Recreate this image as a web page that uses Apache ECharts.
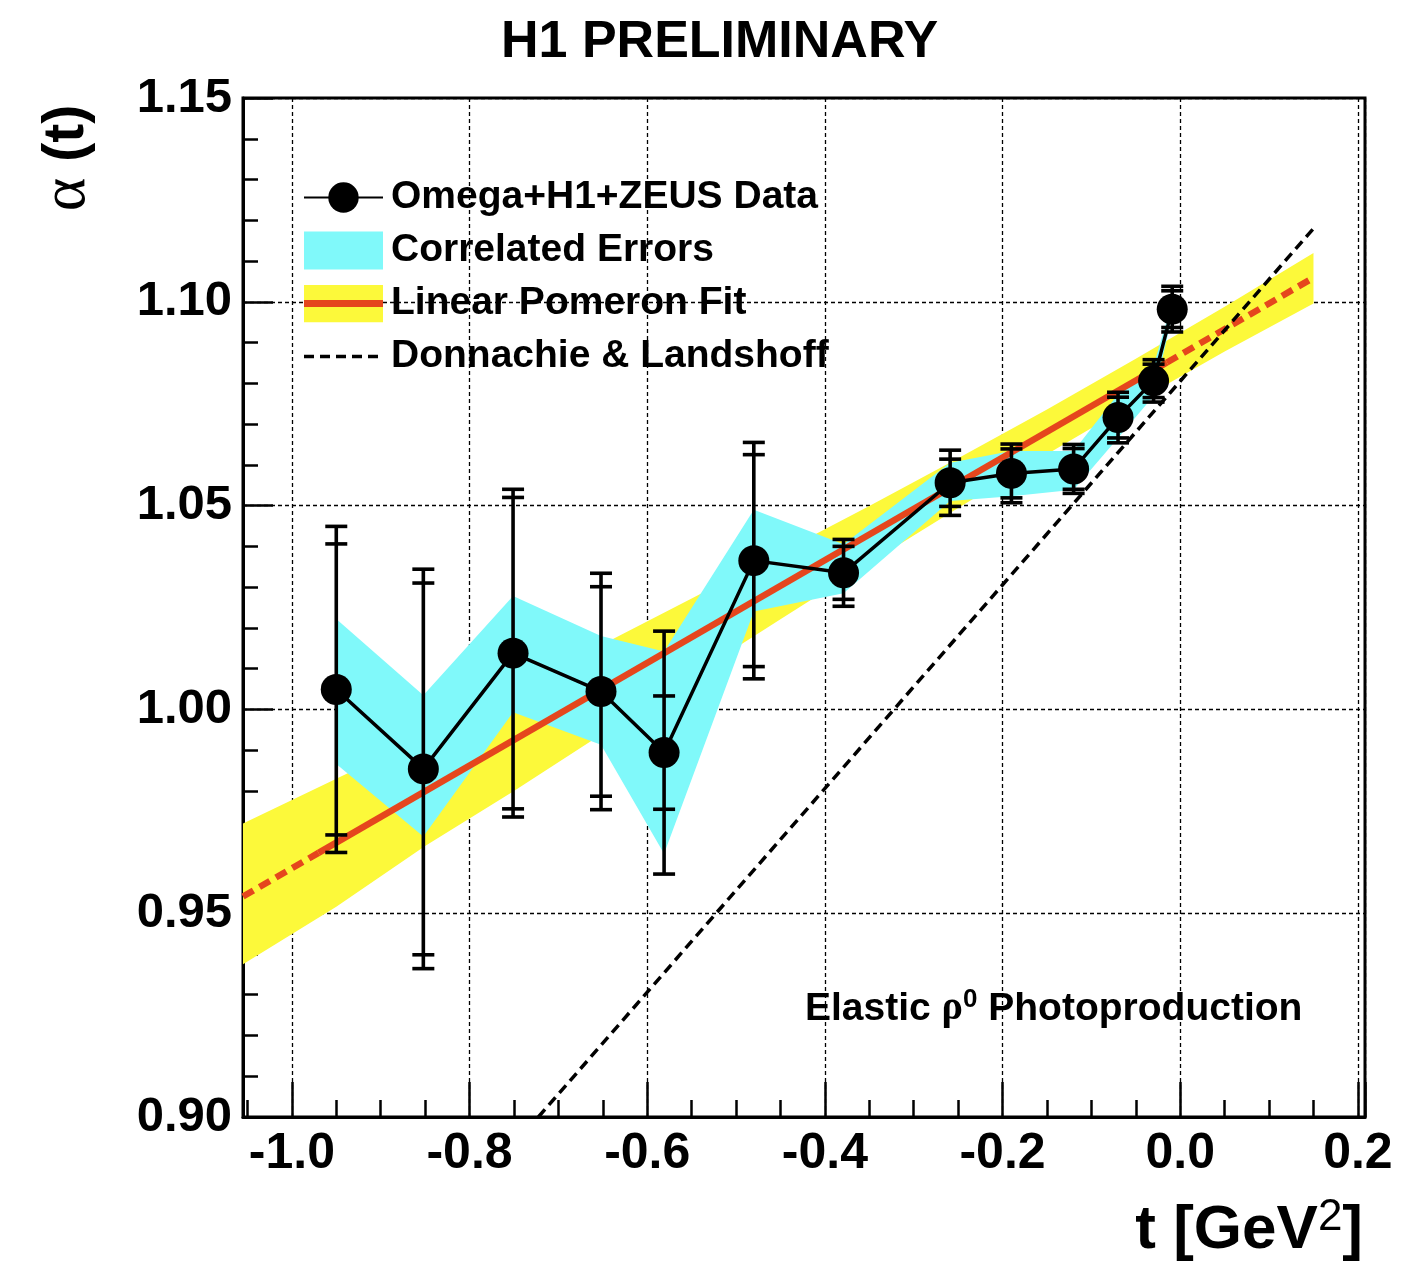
<!DOCTYPE html>
<html>
<head>
<meta charset="utf-8">
<title>H1 Preliminary - alpha(t)</title>
<script src="https://cdn.jsdelivr.net/npm/echarts@6/dist/echarts.min.js"></script>
<style>
html, body { margin: 0; padding: 0; background: #fff; }
#chart { width: 1417px; height: 1264px; }
</style>
</head>
<body>
<div id="chart"></div>
<script>
// Omega+H1+ZEUS points
const tValues = [-0.950, -0.852, -0.751, -0.652, -0.581, -0.480, -0.379, -0.259, -0.190, -0.120, -0.070, -0.030, -0.009];
const alphaValues = [1.0049, 0.9854, 1.0138, 1.0044, 0.9894, 1.0365, 1.0335, 1.0556, 1.0579, 1.0590, 1.0716, 1.0806, 1.0982];
const statErr = [0.0357, 0.0456, 0.0382, 0.0257, 0.0139, 0.0260, 0.0065, 0.0058, 0.0060, 0.0050, 0.0050, 0.0041, 0.0045];
const totalErr = [0.0400, 0.0490, 0.0402, 0.0290, 0.0298, 0.0290, 0.0082, 0.0080, 0.0072, 0.0060, 0.0062, 0.0052, 0.0056];

// correlated error band (cyan), at the data points
const corrUpper = [1.0222, 1.0035, 1.0278, 1.0180, 1.0142, 1.0490, 1.0405, 1.0605, 1.0634, 1.0634, 1.0773, 1.0843, 1.1000];
const corrLower = [0.9866, 0.9688, 0.9993, 0.9913, 0.9646, 1.0240, 1.0285, 1.0511, 1.0523, 1.0539, 1.0666, 1.0769, 1.0965];

// linear pomeron fit error band (yellow)
const fitBandT = [-1.055, -0.95, -0.85, -0.75, -0.65, -0.55, -0.45, -0.35, -0.25, -0.15, -0.05, 0.05, 0.15];
const fitBandUpper = [0.9720, 0.9830, 0.9935, 1.0050, 1.0160, 1.0272, 1.0385, 1.0499, 1.0616, 1.0736, 1.0860, 1.0988, 1.1120];
const fitBandLower = [0.9375, 0.9516, 0.9665, 0.9800, 0.9941, 1.0082, 1.0221, 1.0359, 1.0494, 1.0626, 1.0754, 1.0878, 1.0996];

// fit line: dashed outside the data range, solid inside
const fitLeft = [[-1.055, 0.9541], [-0.970, 0.9648]];
const fitMid = [[-0.970, 0.9648], [-0.015, 1.0851]];
const fitRight = [[-0.015, 1.0851], [0.150, 1.1059]];

// Donnachie & Landshoff
const dlLine = [[-0.7225, 0.900], [0.150, 1.118]];

const FONT = '"Liberation Sans", Arial, Helvetica, sans-serif';
const GREEK = '"Liberation Serif", "DejaVu Serif", serif';
const CYAN = '#80f9fa';
const YELLOW = '#fcf93a';
const RED = '#e5461d';

function svgIcon(svg) {
    return 'image://data:image/svg+xml;charset=utf-8,' + encodeURIComponent(svg);
}
const fitIcon = svgIcon("<svg xmlns='http://www.w3.org/2000/svg' width='79' height='38'><rect width='79' height='38' fill='" + YELLOW + "'/><rect y='15.5' width='79' height='7' fill='" + RED + "'/></svg>");
const dlIcon = svgIcon("<svg xmlns='http://www.w3.org/2000/svg' width='79' height='38'><line x1='0' y1='19' x2='74' y2='19' stroke='#000' stroke-width='3.5' stroke-dasharray='10,6'/></svg>");

function bandRenderer(xs, up, lo, color) {
    return function (params, api) {
        if (params.dataIndex !== 0) return null;
        const pts = [];
        for (let i = 0; i < xs.length; i++) pts.push(api.coord([xs[i], up[i]]));
        for (let i = xs.length - 1; i >= 0; i--) pts.push(api.coord([xs[i], lo[i]]));
        return { type: 'polygon', shape: { points: pts }, style: { fill: color } };
    };
}

function errorBar(params, api) {
    const t = api.value(0), a = api.value(1), s = api.value(2), e = api.value(3);
    const top = api.coord([t, a + e]);
    const bot = api.coord([t, a - e]);
    const sTop = api.coord([t, a + s]);
    const sBot = api.coord([t, a - s]);
    const hw = 11;
    const st = { stroke: '#000', lineWidth: 3.6 };
    const cap = p => ({ type: 'line', shape: { x1: p[0] - hw, y1: p[1], x2: p[0] + hw, y2: p[1] }, style: st });
    return {
        type: 'group',
        children: [
            { type: 'line', shape: { x1: top[0], y1: top[1], x2: bot[0], y2: bot[1] }, style: st },
            cap(top), cap(bot), cap(sTop), cap(sBot)
        ]
    };
}

const isMajor = v => Math.abs(v / 0.2 - Math.round(v / 0.2)) < 1e-6;

var chartDom = document.getElementById('chart');
var myChart = echarts.init(chartDom);
var option = {
    animation: false,
    backgroundColor: '#fff',
    title: [
        {
            text: 'H1 PRELIMINARY',
            left: 496, top: 12,
            textStyle: { fontFamily: FONT, fontWeight: 'bold', fontSize: 52, color: '#000' }
        },
        {
            text: '{a|Elastic }{g|ρ}{s|0}{a| Photoproduction}',
            left: 800, top: 982,
            textStyle: {
                rich: {
                    a: { fontFamily: FONT, fontWeight: 'bold', fontSize: 39, color: '#000', lineHeight: 44 },
                    g: { fontFamily: GREEK, fontSize: 40, color: '#000', lineHeight: 44 },
                    s: { fontFamily: FONT, fontSize: 26, color: '#000', verticalAlign: 'top', lineHeight: 26 }
                }
            }
        }
    ],
    legend: {
        orient: 'vertical',
        left: 298, top: 173,
        itemWidth: 79, itemHeight: 38, itemGap: 14,
        selectedMode: false,
        textStyle: { fontFamily: FONT, fontWeight: 'bold', fontSize: 39, color: '#000', padding: [0, 0, 0, 3] },
        data: [
            { name: 'Omega+H1+ZEUS Data' },
            { name: 'Correlated Errors', icon: 'rect' },
            { name: 'Linear Pomeron Fit', icon: fitIcon },
            { name: 'Donnachie & Landshoff', icon: dlIcon }
        ]
    },
    grid: {
        left: 243, right: 52, top: 98, bottom: 147,
        show: true, borderColor: '#000', borderWidth: 3, backgroundColor: 'transparent'
    },
    xAxis: {
        type: 'value',
        min: -1.055, max: 0.208,
        splitNumber: 6, minInterval: 0.2, maxInterval: 0.2,
        axisLine: { show: true, onZero: false, lineStyle: { color: '#000', width: 3 } },
        axisTick: { show: true, inside: true, length: 35, lineStyle: { color: '#000', width: 2.5 } },
        minorTick: { show: true, splitNumber: 4, length: 17, lineStyle: { color: '#000', width: 2.5 } },
        splitLine: { show: true, lineStyle: { color: '#000', width: 1.3, type: [4, 3] } },
        axisLabel: {
            margin: 12,
            fontFamily: FONT, fontWeight: 'bold', fontSize: 50, color: '#000',
            formatter: v => isMajor(v) ? v.toFixed(1) : ''
        }
    },
    yAxis: {
        type: 'value',
        min: 0.90, max: 1.15, interval: 0.05,
        axisLine: { show: true, onZero: false, lineStyle: { color: '#000', width: 3 } },
        axisTick: { show: true, inside: true, length: 30, lineStyle: { color: '#000', width: 2.5 } },
        minorTick: { show: true, splitNumber: 5, length: 15, lineStyle: { color: '#000', width: 2.5 } },
        splitLine: { show: true, lineStyle: { color: '#000', width: 1.3, type: [4, 3] } },
        axisLabel: {
            margin: 11,
            fontFamily: FONT, fontWeight: 'bold', fontSize: 49, color: '#000',
            formatter: v => v.toFixed(2)
        }
    },
    graphic: [
        {
            type: 'text',
            x: 67, y: 158, rotation: Math.PI / 2,
            style: {
                text: '{g|α}{b| (t)}',
                align: 'center', verticalAlign: 'middle',
                rich: {
                    g: { fontFamily: GREEK, fontSize: 64, fill: '#000' },
                    b: { fontFamily: FONT, fontWeight: 'bold', fontSize: 57, fill: '#000' }
                }
            }
        },
        {
            type: 'text',
            x: 1363, y: 1231,
            style: {
                text: '{b|t [GeV}{s|2}{b|]}',
                align: 'right', verticalAlign: 'middle',
                rich: {
                    b: { fontFamily: FONT, fontWeight: 'bold', fontSize: 62, fill: '#000', lineHeight: 70 },
                    s: { fontFamily: FONT, fontSize: 44, fill: '#000', verticalAlign: 'top', lineHeight: 44 }
                }
            }
        }
    ],
    series: [
        {
            name: 'Linear Pomeron Fit',
            type: 'custom', z: 1, silent: true,
            itemStyle: { color: YELLOW },
            renderItem: bandRenderer(fitBandT, fitBandUpper, fitBandLower, YELLOW),
            encode: { x: 0, y: [1, 2] },
            data: fitBandT.map((t, i) => [t, fitBandLower[i], fitBandUpper[i]])
        },
        {
            name: 'Correlated Errors',
            type: 'custom', z: 2, silent: true,
            itemStyle: { color: CYAN },
            renderItem: bandRenderer(tValues, corrUpper, corrLower, CYAN),
            encode: { x: 0, y: [1, 2] },
            data: tValues.map((t, i) => [t, corrLower[i], corrUpper[i]])
        },
        {
            name: 'Linear Pomeron Fit', type: 'line', z: 3, symbol: 'none', silent: true,
            lineStyle: { color: RED, width: 6.5, type: [12, 7] },
            data: fitLeft
        },
        {
            name: 'Linear Pomeron Fit', type: 'line', z: 3, symbol: 'none', silent: true,
            lineStyle: { color: RED, width: 6.5 },
            data: fitMid
        },
        {
            name: 'Linear Pomeron Fit', type: 'line', z: 3, symbol: 'none', silent: true,
            lineStyle: { color: RED, width: 6.5, type: [12, 7] },
            data: fitRight
        },
        {
            name: 'Donnachie & Landshoff', type: 'line', z: 3, symbol: 'none', silent: true,
            lineStyle: { color: '#000', width: 3.5, type: [10, 6] },
            data: dlLine
        },
        {
            name: 'Omega+H1+ZEUS Data', type: 'line', z: 5,
            symbol: 'circle', symbolSize: 31,
            itemStyle: { color: '#000' },
            lineStyle: { color: '#000', width: 3.5 },
            data: tValues.map((t, i) => [t, alphaValues[i]])
        },
        {
            name: 'Omega+H1+ZEUS Data', type: 'custom', z: 4, silent: true,
            itemStyle: { color: '#000' },
            renderItem: errorBar,
            encode: { x: 0, y: 1 },
            data: tValues.map((t, i) => [t, alphaValues[i], statErr[i], totalErr[i]])
        }
    ]
};
option && myChart.setOption(option);
</script>
</body>
</html>
